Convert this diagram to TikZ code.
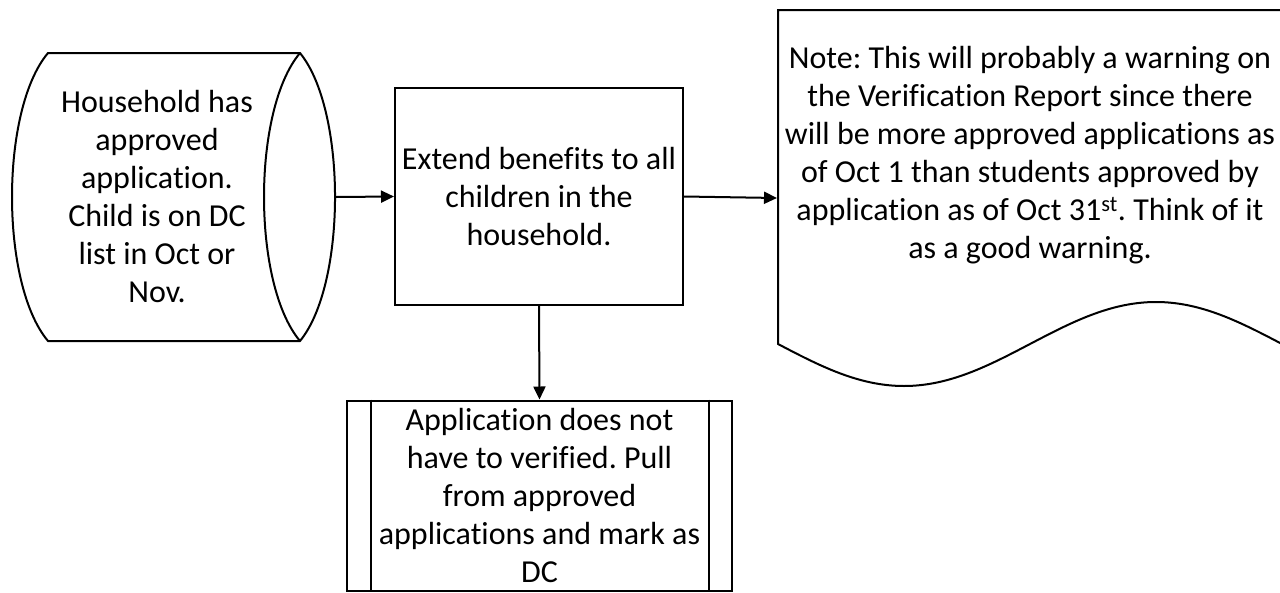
\documentclass[tikz,border=0pt]{standalone}
\usepackage{fontspec}
\setmainfont{Carlito}[Ligatures=NoCommon]
\usetikzlibrary{arrows.meta}
\frenchspacing
\begin{document}
\begin{tikzpicture}[x=1pt,y=-1pt, line width=2pt,
  lbl/.style={font=\fontsize{32}{38}\selectfont, align=center, inner sep=0pt},
  shapebox/.style={minimum width=#1, inner sep=0pt},
  arr/.style={-{Triangle[length=13pt,width=12pt]}}]
\useasboundingbox (0,0) rectangle (1280,592);
\fill[white] (0,0) rectangle (1280,592);

% left: direct access storage
\node[shapebox=323pt, minimum height=288pt] (src) at (173.5,197) {};
\draw (48,53) -- (300,53) .. controls (346.7,110) and (346.7,284) .. (300,341)
  -- (48,341) .. controls (0,284) and (0,110) .. (48,53) -- cycle;
\draw (300,53) .. controls (252,110) and (252,284) .. (300,341);
\node[lbl] (srctext) at (157,197) {Household has\\approved\\application.\\Child is on DC\\list in Oct or\\Nov.};

% middle process
\node[lbl, draw, minimum width=288pt, minimum height=217pt] (box) at (539,196.5)
  {Extend benefits to all\\children in the\\household.};

% predefined process
\node[lbl, draw, minimum width=385pt, minimum height=190pt] (pp) at (539.5,495.5)
  {Application does not\\have to verified. Pull\\from approved\\applications and mark as\\DC};
\draw ([xshift=25pt]pp.north west) -- ([xshift=25pt]pp.south west);
\draw ([xshift=-24pt]pp.north east) -- ([xshift=-24pt]pp.south east);

% note (document shape)
\node[shapebox=504pt, minimum height=376pt] (note) at (1030,198) {};
\draw (778,10) -- (1282,10) -- (1282,344) sin (1156,302) cos (1030,344)
  sin (904,386) cos (778,344) -- cycle;
\node[lbl] (notetext) at (1030,155) {Note: This will probably a warning on\\the Verification Report since there\\will be more approved applications as\\of Oct 1 than students approved by\\application as of Oct 31\textsuperscript{st}. Think of it\\as a good warning.};

% connectors
\draw[arr] (src.east) -- (box.west);
\draw[arr] (box.east) -- (note.west);
\draw[arr] (box.south) -- (pp.north);
\end{tikzpicture}
\end{document}
